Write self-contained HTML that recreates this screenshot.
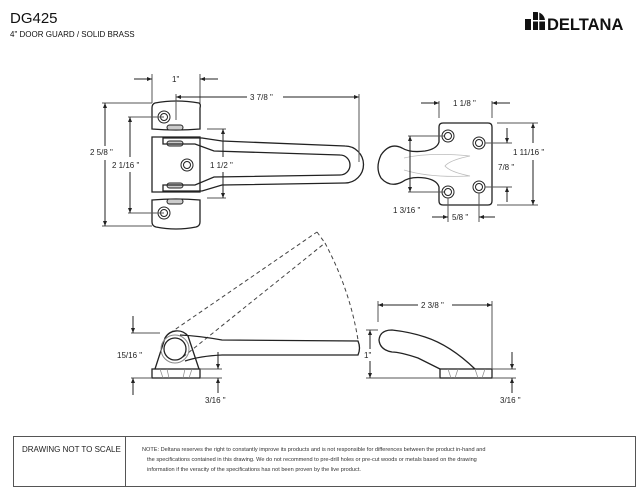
<!DOCTYPE html>
<html><head><meta charset="utf-8"><style>
html,body{margin:0;padding:0;background:#fff;}
svg{display:block;font-family:"Liberation Sans",Arial,sans-serif;}
</style></head><body>
<svg width="644" height="494" viewBox="0 0 644 494" xmlns="http://www.w3.org/2000/svg">
<defs>
<marker id="a" viewBox="0 0 10 10" refX="10" refY="5" markerWidth="5" markerHeight="5" orient="auto-start-reverse"><path d="M0,1 L10,5 L0,9 z" fill="#222"/></marker>
</defs>
<!-- header -->
<text x="10" y="23" font-size="15" fill="#111">DG425</text>
<text x="10" y="37" font-size="8" fill="#111">4" DOOR GUARD / SOLID BRASS</text>
<g fill="#111">
<rect x="525" y="19" width="6" height="11"/>
<path d="M533,30 V12 H536 A9,9 0 0 1 545,21 V30 z"/>
<rect x="533" y="20" width="12" height="1.5" fill="#fff"/>
<rect x="538" y="12" width="1.3" height="18" fill="#fff"/>
</g>
<text x="547" y="30" font-size="16.5" font-weight="bold" fill="#111">DELTANA</text>

<g fill="none" stroke="#222" stroke-width="1">
<!-- top view hinge -->
<path d="M155,103 Q176,99 199,103 Q201,104 200,108 V129 Q176,131 152,129 V108 Q152,104 155,103 z" stroke-width="1.3"/>
<path d="M152,137 H200 V192 H152 z" stroke-width="1.3"/>
<path d="M152,200 Q176,198 200,200 V222 Q200,226 196,227 Q176,231 156,227 Q152,226 152,222 z" stroke-width="1.3"/>
<circle cx="164" cy="117" r="6"/><circle cx="164" cy="117" r="3.5"/>
<circle cx="187" cy="165" r="6"/><circle cx="187" cy="165" r="3.5"/>
<circle cx="164" cy="213" r="6"/><circle cx="164" cy="213" r="3.5"/>
<rect x="167" y="125" width="16" height="5" rx="2.5" fill="#ccc"/>
<rect x="167" y="141" width="16" height="5" rx="2.5" fill="#ccc"/>
<rect x="167" y="183" width="16" height="5" rx="2.5" fill="#ccc"/>
<rect x="167" y="199" width="16" height="5" rx="2.5" fill="#ccc"/>
<!-- arm -->
<path d="M163,138 H202 L222,141 L345,146 A18,18 0 0 1 345,183 L222,185 L202,191 H163 V185 H195 L214,177 L340,175 A10,10 0 0 0 340,155 L214,151 L195,144 H163 z" stroke-width="1.3"/>
<!-- dims top view -->
<line x1="152" y1="74" x2="152" y2="103" stroke="#555"/>
<line x1="200" y1="74" x2="200" y2="103" stroke="#555"/>
<line x1="134" y1="79" x2="152" y2="79" marker-end="url(#a)"/>
<line x1="218" y1="79" x2="200" y2="79" marker-end="url(#a)"/>
<line x1="176" y1="97" x2="247" y2="97" marker-start="url(#a)"/>
<line x1="283" y1="97" x2="359" y2="97" marker-end="url(#a)"/>
<line x1="359" y1="94" x2="359" y2="162" stroke="#555"/>
<line x1="176" y1="94" x2="176" y2="120" stroke="#555"/>
<line x1="102" y1="103" x2="152" y2="103" stroke="#555"/>
<line x1="102" y1="226" x2="152" y2="226" stroke="#555"/>
<line x1="105" y1="103" x2="105" y2="146" marker-start="url(#a)"/>
<line x1="105" y1="160" x2="105" y2="226" marker-end="url(#a)"/>
<line x1="128" y1="117" x2="164" y2="117" stroke="#555"/>
<line x1="128" y1="213" x2="164" y2="213" stroke="#555"/>
<line x1="130" y1="117" x2="130" y2="157" marker-start="url(#a)"/>
<line x1="130" y1="172" x2="130" y2="213" marker-end="url(#a)"/>
<line x1="207" y1="129" x2="226" y2="129" stroke="#555"/>
<line x1="207" y1="198" x2="226" y2="198" stroke="#555"/>
<line x1="223" y1="129" x2="223" y2="157" marker-start="url(#a)"/>
<line x1="223" y1="172" x2="223" y2="198" marker-end="url(#a)"/>

<!-- side plate view -->
<path d="M443,123 H488 Q492,123 492,127 V201 Q492,205 488,205 H443 Q439,205 439,201 V187 Q437,180 425,178 Q410,176 402,182 Q390,188 381,178 Q375,168 381,155 Q390,142 402,148 Q410,153 425,151 Q437,149 439,142 V127 Q439,123 443,123 z" stroke-width="1.3"/>
<path d="M404,158 Q430,152 470,156 Q450,160 445,166 Q450,172 470,176 Q430,178 404,170" stroke="#bbb" stroke-width="0.8"/>
<circle cx="448" cy="136" r="6"/><circle cx="448" cy="136" r="3.5"/>
<circle cx="479" cy="143" r="6"/><circle cx="479" cy="143" r="3.5"/>
<circle cx="448" cy="192" r="6"/><circle cx="448" cy="192" r="3.5"/>
<circle cx="479" cy="187" r="6"/><circle cx="479" cy="187" r="3.5"/>
<line x1="439" y1="101" x2="439" y2="118" stroke="#555"/>
<line x1="492" y1="101" x2="492" y2="118" stroke="#555"/>
<line x1="421" y1="103" x2="439" y2="103" marker-end="url(#a)"/>
<line x1="510" y1="103" x2="492" y2="103" marker-end="url(#a)"/>
<line x1="497" y1="123" x2="538" y2="123" stroke="#555"/>
<line x1="497" y1="205" x2="538" y2="205" stroke="#555"/>
<line x1="533" y1="123" x2="533" y2="143" marker-start="url(#a)"/>
<line x1="533" y1="160" x2="533" y2="205" marker-end="url(#a)"/>
<line x1="485" y1="143" x2="512" y2="143" stroke="#555"/>
<line x1="485" y1="187" x2="512" y2="187" stroke="#555"/>
<line x1="507" y1="128" x2="507" y2="143" marker-end="url(#a)"/>
<line x1="507" y1="202" x2="507" y2="187" marker-end="url(#a)"/>
<line x1="408" y1="136" x2="444" y2="136" stroke="#555"/>
<line x1="408" y1="192" x2="444" y2="192" stroke="#555"/>
<line x1="410" y1="136" x2="410" y2="192" marker-start="url(#a)" marker-end="url(#a)"/>
<line x1="448" y1="198" x2="448" y2="222" stroke="#555"/>
<line x1="479" y1="193" x2="479" y2="222" stroke="#555"/>
<line x1="432" y1="217" x2="448" y2="217" marker-end="url(#a)"/>
<line x1="495" y1="217" x2="479" y2="217" marker-end="url(#a)"/>

<!-- bottom left side view -->
<g stroke-dasharray="4,3" stroke="#444">
<line x1="170" y1="333" x2="317" y2="232"/>
<line x1="183" y1="357" x2="325" y2="243"/>
<line x1="317" y1="232" x2="325" y2="243"/>
<path d="M325,243 Q350,290 358,340"/>
</g>
<rect x="152" y="369" width="48" height="9" stroke-width="1.3"/>
<path d="M160,369 L163,378 M192,369 L189,378 M167,369 L169,378 M185,369 L183,378" stroke="#888" stroke-width="0.7"/>
<path d="M155,369 L165,338 A14,14 0 0 1 188,336 L199,369" stroke-width="1.3"/>
<circle cx="175" cy="349" r="11" stroke-width="1.3"/>
<circle cx="175" cy="349" r="14" stroke="#888"/>
<path d="M180,335 Q200,336 222,340 L358,341 Q361,348 358,355 L222,355 Q200,356 185,361" stroke-width="1.3"/>
<line x1="131" y1="333" x2="160" y2="333" stroke="#555"/>
<line x1="131" y1="378" x2="152" y2="378" stroke="#555"/>
<line x1="133" y1="316" x2="133" y2="333" marker-end="url(#a)"/>
<line x1="133" y1="395" x2="133" y2="378" marker-end="url(#a)"/>
<line x1="200" y1="369" x2="222" y2="369" stroke="#555"/>
<line x1="200" y1="378" x2="222" y2="378" stroke="#555"/>
<line x1="218" y1="352" x2="218" y2="369" marker-end="url(#a)"/>
<line x1="218" y1="393" x2="218" y2="378" marker-end="url(#a)"/>

<!-- bottom right side view -->
<rect x="440" y="369" width="52" height="9" stroke-width="1.3"/>
<path d="M448,369 L451,378 M458,369 L455,378 M475,369 L478,378 M485,369 L482,378" stroke="#888" stroke-width="0.7"/>
<path d="M440,369 Q430,364 418,358 Q400,352 392,352 Q380,350 379,340 Q380,330 392,330 Q410,332 425,337 Q450,345 475,369" stroke-width="1.3"/>
<line x1="378" y1="301" x2="378" y2="322" stroke="#555"/>
<line x1="492" y1="301" x2="492" y2="369" stroke="#555"/>
<line x1="378" y1="305" x2="418" y2="305" marker-start="url(#a)"/>
<line x1="452" y1="305" x2="492" y2="305" marker-end="url(#a)"/>
<line x1="366" y1="330" x2="378" y2="330" stroke="#555"/>
<line x1="366" y1="378" x2="440" y2="378" stroke="#555"/>
<line x1="370" y1="330" x2="370" y2="349" marker-start="url(#a)"/>
<line x1="370" y1="361" x2="370" y2="378" marker-end="url(#a)"/>
<line x1="492" y1="369" x2="516" y2="369" stroke="#555"/>
<line x1="492" y1="378" x2="516" y2="378" stroke="#555"/>
<line x1="512" y1="352" x2="512" y2="369" marker-end="url(#a)"/>
<line x1="512" y1="393" x2="512" y2="378" marker-end="url(#a)"/>
</g>

<g font-size="8" fill="#222">
<text x="172" y="82">1"</text>
<text x="250" y="100">3 7/8 "</text>
<text x="90" y="155">2 5/8 "</text>
<text x="112" y="168">2  1/16 "</text>
<text x="210" y="168">1 1/2 "</text>
<text x="453" y="106">1 1/8 "</text>
<text x="513" y="155">1 11/16 "</text>
<text x="498" y="170">7/8 "</text>
<text x="393" y="213">1  3/16 "</text>
<text x="452" y="220">5/8 "</text>
<text x="117" y="358">15/16 "</text>
<text x="205" y="403">3/16 "</text>
<text x="421" y="308">2 3/8 "</text>
<text x="364" y="358">1"</text>
<text x="500" y="403">3/16 "</text>
</g>

<!-- footer -->
<rect x="13.5" y="436.5" width="622" height="50" fill="none" stroke="#555"/>
<line x1="125.5" y1="436" x2="125.5" y2="487" stroke="#555"/>
<text x="22" y="452" font-size="8" fill="#222">DRAWING NOT TO SCALE</text>
<g font-size="5.6" fill="#333">
<text x="142" y="451">NOTE: Deltana reserves the right to constantly improve its products and is not responsible for differences between the product in-hand and</text>
<text x="147" y="461">the specifications contained in this drawing.  We do not recommend to pre-drill holes or pre-cut woods or metals based on the drawing</text>
<text x="147" y="471">information if the veracity of the specifications has not been proven by the live product.</text>
</g>
</svg>
</body></html>
